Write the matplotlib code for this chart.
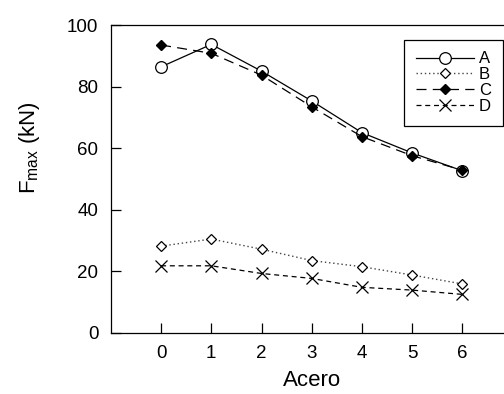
import matplotlib
matplotlib.use("Agg")
import matplotlib.pyplot as plt

# datos
acero = [0, 1, 2, 3, 4, 5, 6]
serie_a = [86.4, 93.7, 85.0, 75.3, 65.0, 58.4, 52.6]
serie_b = [28.1, 30.4, 27.1, 23.4, 21.4, 18.7, 15.8]
serie_c = [93.5, 90.8, 83.7, 73.4, 63.7, 57.5, 52.8]
serie_d = [21.7, 21.7, 19.2, 17.6, 14.7, 13.8, 12.4]
etiquetas = ['A', 'B', 'C', 'D']

plt.rcParams['font.family'] = ['Liberation Sans', 'DejaVu Sans']
plt.rcParams['mathtext.fontset'] = 'custom'
plt.rcParams['mathtext.rm'] = 'Liberation Sans'

fig = plt.figure(figsize=(5.04, 3.94), dpi=100)
ax = fig.add_axes([0.220, 0.156, 0.797, 0.7805])

# estilos de las curvas
ax.plot(acero, serie_a, color='black', lw=0.9, ls='-', marker='o', ms=8.4,
        mfc='white', mec='black', mew=0.9, label=etiquetas[0])
ax.plot(acero, serie_b, color='#444444', lw=1.0, ls=(0, (1, 2)), marker='D', ms=5.2,
        mfc='white', mec='black', mew=0.9, label=etiquetas[1])
ax.plot(acero, serie_c, color='black', lw=0.9, ls=(0, (8, 5)), marker='D', ms=5.2,
        mfc='black', mec='black', label=etiquetas[2])
ax.plot(acero, serie_d, color='black', lw=0.9, ls=(0, (4, 3)), marker='x', ms=8,
        mec='black', mew=0.9, label=etiquetas[3])

ax.set_xlim(-1, 7)
ax.set_ylim(0, 100)
ax.set_xticks(acero)
ax.set_yticks([0, 20, 40, 60, 80, 100])
ax.tick_params(direction='in', length=7.5, width=0.9, labelsize=13.5, pad=9)
ax.spines['right'].set_visible(False)
for s in ['left', 'top', 'bottom']:
    ax.spines[s].set_linewidth(0.9)

ax.set_xlabel('Acero', fontsize=16, labelpad=6)
ax.set_ylabel(r'F$_{\mathrm{max}}$ (kN)', fontsize=16)
ax.yaxis.set_label_coords(-0.172, 0.6)

leg = ax.legend(loc='upper left', bbox_to_anchor=(0.7295, 0.952), fontsize=12,
                frameon=True, fancybox=False, edgecolor='black', framealpha=1,
                handlelength=3.5, handletextpad=0.3, labelspacing=0.05,
                borderpad=0.7, borderaxespad=0)
leg.get_frame().set_linewidth(0.9)

fig.savefig('out.png', dpi=100)
